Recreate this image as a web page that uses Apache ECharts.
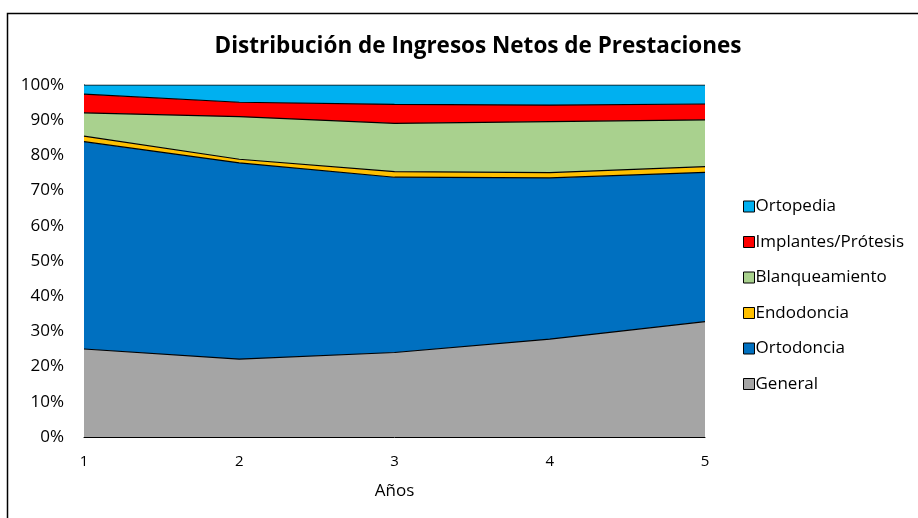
<!DOCTYPE html>
<html><head><meta charset="utf-8">
<script src="https://cdn.jsdelivr.net/npm/echarts@6/dist/echarts.min.js"></script>
<style>html,body{margin:0;padding:0;background:#fff}#c{width:918px;height:518px}</style>
</head><body><div id="c"></div>
<script>
const categories = ['1','2','3','4','5'];
const general = [25.0, 22.1, 24.0, 27.8, 32.8];
const ortodoncia = [58.9, 55.8, 49.8, 45.8, 42.4];
const endodoncia = [1.6, 1.0, 1.6, 1.5, 1.6];
const blanqueamiento = [6.6, 12.1, 13.7, 14.5, 13.3];
const implantes = [5.3, 4.1, 5.4, 4.7, 4.5];
const ortopedia = [2.6, 4.9, 5.5, 5.7, 5.4];
const seriesNames = ['General','Ortodoncia','Endodoncia','Blanqueamiento','Implantes/Prótesis','Ortopedia'];
const seriesData = [general, ortodoncia, endodoncia, blanqueamiento, implantes, ortopedia];
const colors = ['#A5A5A5','#0070C0','#FFC000','#A9D18E','#FF0000','#00B0F0'];
const FONT = '"Open Sans", sans-serif';

const chart = echarts.init(document.getElementById('c'), null, {renderer:'canvas'});
chart.setOption({
  animation: false,
  title: {
    text: 'Distribución de Ingresos Netos de Prestaciones',
    left: 473, top: 30, textAlign: 'center',
    textStyle: {fontFamily: FONT, fontWeight: 'bold', fontSize: 22.5, color: '#000'}
  },
  graphic: [{
    type: 'rect', shape: {x: 7.5, y: 13.5, width: 1000, height: 1000},
    style: {fill: 'none', stroke: '#000', lineWidth: 1.5}, silent: true
  }],
  legend: {
    orient: 'vertical', left: 738, top: 193, itemGap: 18.5,
    itemWidth: 11, itemHeight: 11,
    data: seriesNames.slice().reverse(),
    textStyle: {fontFamily: FONT, fontSize: 17, color: '#000', padding: [0,0,0,-4]},
    icon: 'rect',
    itemStyle: {borderColor: '#000', borderWidth: 1}
  },
  grid: {left: 84, right: 213, top: 85, bottom: 81},
  xAxis: {
    type: 'category', data: categories, boundaryGap: false,
    name: 'Años', nameLocation: 'middle', nameGap: 46,
    nameTextStyle: {fontFamily: FONT, fontSize: 17, color: '#000'},
    axisLine: {lineStyle: {color: '#000', width: 1}},
    axisTick: {show: false},
    axisLabel: {fontFamily: FONT, fontSize: 15, color: '#000', margin: 17}
  },
  yAxis: {
    type: 'value', min: 0, max: 100, interval: 10,
    axisLine: {show: true, lineStyle: {color: '#000', width: 1}},
    axisTick: {show: false},
    splitLine: {show: false},
    axisLabel: {fontFamily: FONT, fontSize: 17, color: '#000', margin: 20, formatter: '{value}%'}
  },
  series: seriesData.map((d, i) => ({
    name: seriesNames[i], type: 'line', stack: 'total', data: d,
    symbol: 'none',
    lineStyle: {color: '#000', width: 1.2},
    itemStyle: {color: colors[i], borderColor: '#000', borderWidth: 1},
    areaStyle: {color: colors[i], opacity: 1}
  }))
});
</script></body></html>
